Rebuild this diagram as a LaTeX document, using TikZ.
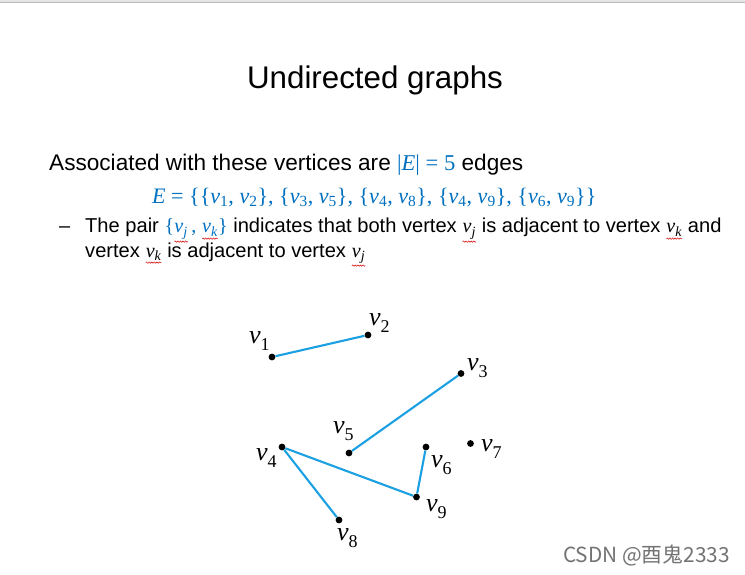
\documentclass[tikz,border=0pt]{standalone}
\usepackage{fontspec}
\setmainfont{Liberation Sans}
\newfontfamily\tnr{Liberation Serif}
\newfontfamily\cjk{Noto Sans CJK SC}
\usetikzlibrary{decorations.pathmorphing}
\definecolor{mblue}{RGB}{0,112,192}
\definecolor{edgeblue}{RGB}{27,160,225}
\newcommand{\vsub}[1]{{\tnr\itshape v\textsubscript{#1}}}
\newcommand{\squig}[1]{\tikz[baseline=(w.base)]{\node[inner sep=0pt,outer sep=0pt](w){#1};\draw[red!85!black,line width=0.5pt,decorate,decoration={snake,amplitude=0.7pt,segment length=2.6pt}]([yshift=-2.5pt]w.south west)--([yshift=-2.5pt]w.south east);}}
\newcommand{\vlab}[1]{{\fontsize{26}{26}\tnr\itshape v}\raisebox{-7pt}{\fontsize{18}{18}\tnr #1}}
\newcommand{\ev}[1]{\textit{v}\textsubscript{#1}}
\tikzset{
  vert/.style={circle,fill=black,inner sep=0pt,minimum size=6.8pt},
  lab/.style={anchor=base west,inner sep=0pt},
  edg/.style={draw=edgeblue,line width=2.1pt},
  txt/.style={anchor=base west,inner sep=0pt}
}
\begin{document}
\begin{tikzpicture}[x=1pt,y=-1pt]
\useasboundingbox (0,0) rectangle (745,575);
\fill[white] (0,0) rectangle (745,575);
\fill[gray!20] (0,0) rectangle (745,2);
\draw[gray!55,line width=0.8pt] (0,2.5) -- (745,2.5);
% title
\node[anchor=base,inner sep=0pt] (title) at (375,89) {\fontsize{31.3}{31}\selectfont Undirected graphs};
% text lines
\node[txt] (line1) at (49,171) {\fontsize{22.6}{24}\selectfont Associated with these vertices are {\tnr\color{mblue}|\textit{E}| = 5} edges};
\node[txt] (eline) at (152,203.5) {\fontsize{22.1}{24}\tnr\color{mblue}\textit{E} = \{\{\ev{1}, \ev{2}\}, \{\ev{3}, \ev{5}\}, \{\ev{4}, \ev{8}\}, \{\ev{4}, \ev{9}\}, \{\ev{6}, \ev{9}\}\}};
\node[txt] (dash) at (59,233) {\fontsize{20}{22}\selectfont --};
\node[txt] (b1) at (85,233) {\fontsize{20.1}{22}\selectfont The pair {\color{mblue}{\tnr\{}\squig{\vsub{j}}\,{\tnr ,} \squig{\vsub{k}}{\tnr\}}} indicates that both vertex \squig{\vsub{j}} is adjacent to vertex \squig{\vsub{k}} and};
\node[txt] (b2) at (85,257) {\fontsize{20.1}{22}\selectfont vertex \squig{\vsub{k}} is adjacent to vertex \squig{\vsub{j}}};
% vertices
\node[vert] (v1) at (272,357) {};
\node[vert] (v2) at (368,335) {};
\node[vert] (v3) at (461,373.5) {};
\node[vert] (v4) at (282,447) {};
\node[vert] (v5) at (349,453) {};
\node[vert] (v6) at (426,447) {};
\node[vert] (v7) at (470.5,443.5) {};
\node[vert] (v8) at (339,520) {};
\node[vert] (v9) at (416.5,497) {};
% labels
\node[lab] (l1) at (249,343) {\vlab{1}};
\node[lab] (l2) at (369,325) {\vlab{2}};
\node[lab] (l3) at (467,370) {\vlab{3}};
\node[lab] (l4) at (256,460) {\vlab{4}};
\node[lab] (l5) at (333,433) {\vlab{5}};
\node[lab] (l6) at (431,467) {\vlab{6}};
\node[lab] (l7) at (481,451) {\vlab{7}};
\node[lab] (l8) at (337,540) {\vlab{8}};
\node[lab] (l9) at (426,511) {\vlab{9}};
% edges
\draw[edg] (v1) -- (v2);
\draw[edg] (v3) -- (v5);
\draw[edg] (v4) -- (v8);
\draw[edg] (v4) -- (v9);
\draw[edg] (v6) -- (v9);
% watermark
\node[txt,text=black!55] (wm) at (563,562) {\fontsize{20.8}{20.8}\cjk CSDN @酉鬼2333};
\end{tikzpicture}
\end{document}
